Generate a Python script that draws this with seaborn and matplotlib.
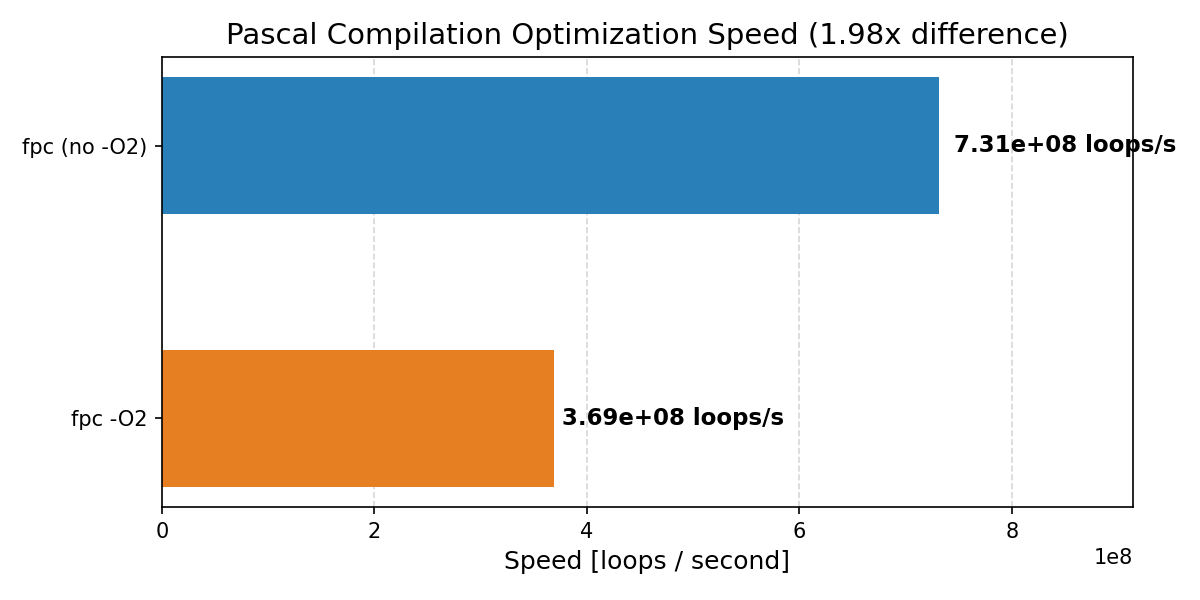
import matplotlib
matplotlib.use("Agg")
import matplotlib.pyplot as plt
import seaborn as sns
import pandas as pd

labels = ["fpc (no -O2)", "fpc -O2"]
speeds = [7.31e8, 3.69e8]
colors = ["#2980b9", "#e67e22"]

df = pd.DataFrame({"label": labels, "speed": speeds})

fig, ax = plt.subplots(figsize=(8, 4), dpi=150)
sns.barplot(data=df, y="label", x="speed", hue="label", palette=colors,
            width=0.5, saturation=1, legend=False, ax=ax, orient="h")
ax.set_ylim(1.325, -0.325)
ax.set_xlim(0, max(speeds) * 1.25)
ax.grid(axis="x", linestyle="--", alpha=0.5)
ax.set_axisbelow(True)
for i, v in enumerate(speeds):
    ax.text(v * 1.02, i, f"{v:.2e} loops/s", va="center", ha="left",
            fontsize=11, fontweight="bold")
ax.set_title("Pascal Compilation Optimization Speed (1.98x difference)", fontsize=14)
ax.set_xlabel("Speed [loops / second]", fontsize=12)
ax.set_ylabel("")
fig.subplots_adjust(left=0.135, right=0.944, top=0.905, bottom=0.155)
fig.savefig("out.png")
